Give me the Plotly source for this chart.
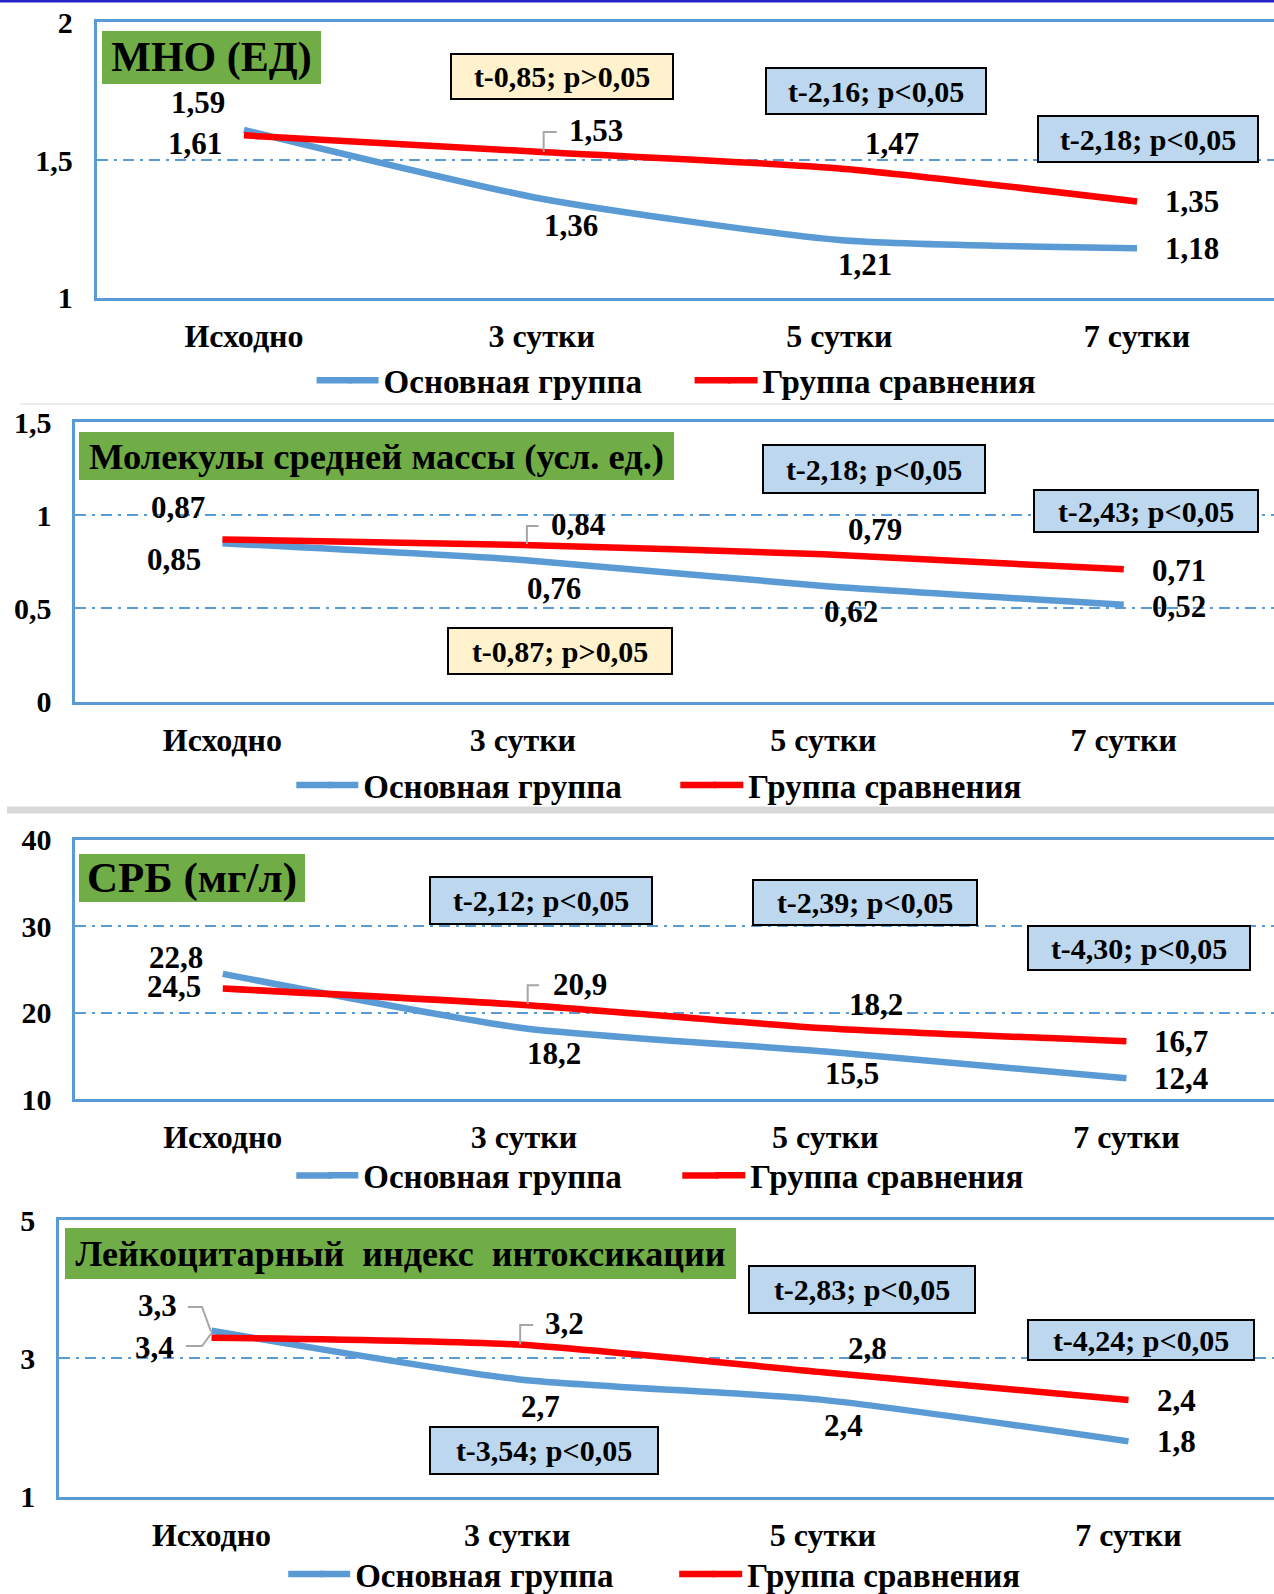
import plotly.graph_objects as go

W, H = 1274, 1594

# ---------------- data ----------------
categories = ["Исходно", "3 сутки", "5 сутки", "7 сутки"]
series_names = ["Основная группа", "Группа сравнения"]

mno_main = [1.61, 1.36, 1.21, 1.18]
mno_comp = [1.59, 1.53, 1.47, 1.35]
msm_main = [0.85, 0.76, 0.62, 0.52]
msm_comp = [0.87, 0.84, 0.79, 0.71]
crp_main = [24.5, 18.2, 15.5, 12.4]
crp_comp = [22.8, 20.9, 18.2, 16.7]
lii_main = [3.4, 2.7, 2.4, 1.8]
lii_comp = [3.3, 3.2, 2.8, 2.4]

panel_titles = ["МНО (ЕД)", "Молекулы средней массы (усл. ед.)", "СРБ (мг/л)",
                "Лейкоцитарный\u00a0\u00a0индекс\u00a0\u00a0интоксикации"]

mno_stats = ["t-0,85; p>0,05", "t-2,16; p<0,05", "t-2,18; p<0,05"]
msm_stats = ["t-2,18; p<0,05", "t-2,43; p<0,05", "t-0,87; p>0,05"]
crp_stats = ["t-2,12; p<0,05", "t-2,39; p<0,05", "t-4,30; p<0,05"]
lii_stats = ["t-2,83; p<0,05", "t-4,24; p<0,05", "t-3,54; p<0,05"]

# ---------------- styling / layout ----------------
BLUE = "#5B9BD5"
RED = "#FF0000"
BOXBLUE = "#BDD7EE"
BOXYELLOW = "#FFF2CC"
GREEN = "#70AD47"
FONT = "Liberation Serif"
LINE_W = 6.5


def fx(x):
    return x / W


def fy(y):
    return 1 - y / H


panels = [
    dict(main=mno_main, comp=mno_comp, fmt="{:.2f}", stats=mno_stats,
         left=96.6, top=22.4, bottom=297.9, xr=[-0.495, 3.46], yr=[1, 2], dtick=0.5,
         title=panel_titles[0], tsize=42, tbox=(211, 57, 219, 53),
         boxes=[(562.3, 76.3, 224, 47, BOXYELLOW), (875.5, 91, 222, 48, BOXBLUE),
                (1148, 138.8, 222, 48, BOXBLUE)],
         off_main=[(-49, 13.6), (29.7, 27), (25.9, 24.4), (54.6, 0)],
         off_comp=[(-45.7, -32.7), (54.1, -21.7), (52.3, -25), (54.6, 0)],
         leaders=[("comp", 1, [(2, 0), (2, -20), (15, -20)])],
         legy=380.3, legx=343.6, entry=334),
    dict(main=msm_main, comp=msm_comp, fmt="{:.2f}", stats=msm_stats,
         left=75.2, top=422, bottom=701.6, xr=[-0.49, 3.5], yr=[0, 1.5], dtick=0.5,
         title=panel_titles[1], tsize=36.5, tbox=(376.7, 456, 595, 48),
         boxes=[(874.4, 469.2, 224, 50, BOXBLUE), (1146, 510.9, 226, 44, BOXBLUE),
                (560.2, 651.2, 226, 48, BOXYELLOW)],
         off_main=[(-48.8, 16), (30.9, 28.8), (27.2, 25.1), (55, 2.3)],
         off_comp=[(-44.8, -32), (55.3, -20.3), (51.6, -24.5), (55, 1)],
         leaders=[("comp", 1, [(4, -1), (4, -19), (15.6, -19)])],
         legy=785, legx=323.3, entry=340),
    dict(main=crp_main, comp=crp_comp, fmt="{:.1f}", stats=crp_stats,
         left=75.2, top=839.9, bottom=1099.1, xr=[-0.49, 3.49], yr=[10, 40], dtick=10,
         title=panel_titles[2], tsize=43, tbox=(192.2, 878, 226, 48),
         boxes=[(541, 900.9, 224, 49, BOXBLUE), (865.3, 902.9, 226, 47, BOXBLUE),
                (1138.8, 948.1, 224, 46, BOXBLUE)],
         off_main=[(-48.8, 12.5), (30.2, 25.1), (26.8, 22.1), (54.9, 0)],
         off_comp=[(-46.8, -30.7), (55.6, -20.6), (51.2, -23.7), (54.9, 0)],
         leaders=[("comp", 1, [(3.7, -1), (3.7, -19.6), (15, -19.6)])],
         legy=1175.4, legx=323.3, entry=342),
    dict(main=lii_main, comp=lii_comp, fmt="{:.1f}", stats=lii_stats,
         left=59, top=1220.1, bottom=1496.7, xr=[-0.499, 3.476], yr=[1, 5], dtick=2,
         title=panel_titles[3], tsize=36, tbox=(400.6, 1253.7, 671, 51),
         boxes=[(862.2, 1289.3, 228, 49, BOXBLUE), (1140.8, 1339.6, 228, 42, BOXBLUE),
                (544, 1450, 230, 49, BOXBLUE)],
         off_main=[(-56.9, 16.5), (23.7, 27), (21, 25.6), (47.8, 0.4)],
         off_comp=[(-53.9, -32.1), (47.1, -20.7), (44.4, -23.9), (47.8, 0.2)],
         leaders=[("comp", 0, [(-23.5, -30.7), (-9.5, -30.7), (-0.5, -6)]),
                  ("main", 0, [(-25.5, 15.3), (-9.5, 15.3), (-0.5, 3)]),
                  ("comp", 1, [(3, 0), (3, -19.6), (16, -19.6)])],
         legy=1574, legx=315.2, entry=347),
]

fig = go.Figure()
layout = dict(width=W, height=H, margin=dict(l=0, r=0, t=0, b=0, autoexpand=False),
              paper_bgcolor="white", plot_bgcolor="white", separators=", ",
              font=dict(family=FONT, size=30, color="black", weight="bold"),
              showlegend=True)
annotations = []
shapes = []

# page decorations
shapes.append(dict(type="rect", xref="paper", yref="paper", x0=0, x1=1, y0=fy(2.5), y1=1,
                   fillcolor="#2323C8", line=dict(width=0), layer="above"))
shapes.append(dict(type="line", xref="paper", yref="paper", x0=fx(20), x1=1, y0=fy(404), y1=fy(404),
                   line=dict(color="#EDEDED", width=2)))
shapes.append(dict(type="rect", xref="paper", yref="paper", x0=fx(7), x1=1, y0=fy(813.5), y1=fy(806.5),
                   fillcolor="#D9D9D9", line=dict(width=0)))

for k, p in enumerate(panels):
    n = "" if k == 0 else str(k + 1)
    xa, ya = "x" + n, "y" + n
    leg = "legend" + n
    for name, vals, col in ((series_names[0], p["main"], BLUE), (series_names[1], p["comp"], RED)):
        fig.add_trace(go.Scatter(x=categories, y=vals, name=name, mode="lines",
                                 line=dict(color=col, width=LINE_W, shape="spline", smoothing=0.6),
                                 xaxis=xa, yaxis=ya, legend=leg, hoverinfo="skip"))
    layout["xaxis" + n] = dict(domain=[fx(p["left"]), 1], anchor=ya, type="category",
                               range=p["xr"], showgrid=False, zeroline=False, automargin=False,
                               showline=True, linecolor=BLUE, linewidth=2.5, mirror=True,
                               ticks="", ticklabelstandoff=8,
                               tickfont=dict(family=FONT, size=32, color="black", weight="bold"))
    layout["yaxis" + n] = dict(domain=[fy(p["bottom"]), fy(p["top"])], anchor=xa,
                               range=p["yr"], dtick=p["dtick"], tick0=p["yr"][0], automargin=False,
                               showgrid=True, gridcolor=BLUE, gridwidth=2,
                               griddash="11px,6px,3px,6px", zeroline=False,
                               showline=True, linecolor=BLUE, linewidth=2.5, mirror=False,
                               ticks="", ticklabelstandoff=15,
                               tickfont=dict(family=FONT, size=30, color="black", weight="bold"))
    layout[leg] = dict(orientation="h", x=fx(p["legx"]), y=fy(p["legy"]), xanchor="left",
                       yanchor="middle", xref="container", yref="container",
                       bgcolor="rgba(0,0,0,0)", borderwidth=0,
                       entrywidth=p["entry"], entrywidthmode="pixels", itemclick=False,
                       font=dict(family=FONT, size=33, color="black", weight="bold"))
    # longer legend samples (the reference uses 60px keys)
    spacing = p["entry"] + 44
    for j, col in enumerate((BLUE, RED)):
        x0 = p["legx"] + j * spacing - 27
        shapes.append(dict(type="line", xref="paper", yref="paper",
                           x0=fx(x0), x1=fx(x0 + 36), y0=fy(p["legy"]), y1=fy(p["legy"]),
                           line=dict(color=col, width=LINE_W)))

    # data labels
    for vals, offs in ((p["main"], p["off_main"]), (p["comp"], p["off_comp"])):
        for i, v in enumerate(vals):
            dx, dy = offs[i]
            annotations.append(dict(x=categories[i], y=v, xref=xa, yref=ya,
                                    text=p["fmt"].format(v).replace(".", ","),
                                    showarrow=False, xshift=dx, yshift=-dy,
                                    font=dict(family=FONT, size=31, color="black", weight="bold")))
    # leader lines
    for which, i, pts in p["leaders"]:
        v = p["main"][i] if which == "main" else p["comp"][i]
        path = "M" + " L".join(f"{dx},{-dy}" for dx, dy in pts)
        shapes.append(dict(type="path", xref=xa, yref=ya, xsizemode="pixel", ysizemode="pixel",
                           xanchor=categories[i], yanchor=v, path=path,
                           line=dict(color="#A6A6A6", width=2)))
    # title box
    cx, cy, w, h = p["tbox"]
    annotations.append(dict(x=fx(cx), y=fy(cy), xref="paper", yref="paper", text=p["title"],
                            showarrow=False, width=w, height=h, bgcolor=GREEN, borderpad=0,
                            borderwidth=0, xanchor="center", yanchor="middle",
                            font=dict(family=FONT, size=p["tsize"], color="black", weight="bold")))
    # stat boxes
    for (bx, by, bw, bh, bc), txt in zip(p["boxes"], p["stats"]):
        annotations.append(dict(x=fx(bx), y=fy(by), xref="paper", yref="paper", text=txt,
                                showarrow=False, width=bw - 4, height=bh - 4, bgcolor=bc,
                                bordercolor="black", borderwidth=2, borderpad=0,
                                xanchor="center", yanchor="middle",
                                font=dict(family=FONT, size=30, color="black", weight="bold")))

layout["annotations"] = annotations
layout["shapes"] = shapes
fig.update_layout(**layout)
fig.write_html("out.html", config={"displayModeBar": False},
               post_script="document.body.style.margin='0px';")
